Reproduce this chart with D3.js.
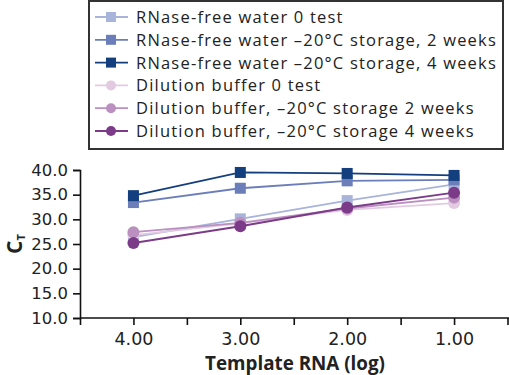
<!DOCTYPE html>
<html>
<head>
<meta charset="utf-8">
<title>CT vs template RNA</title>
<script src="https://d3js.org/d3.v7.min.js"></script>
<style>
  body { margin: 0; background: #fff; }
  svg { display: block; font-family: "Open Sans", sans-serif; }
</style>
</head>
<body>
<svg width="509" height="375"></svg>
<script>
// template RNA (log) positions
var templateLog = [4, 3, 2, 1];

// series labels, in legend order
var seriesNames = [
  "RNase-free water 0 test",
  "RNase-free water \u201320\u00b0C storage, 2 weeks",
  "RNase-free water \u201320\u00b0C storage, 4 weeks",
  "Dilution buffer 0 test",
  "Dilution buffer, \u201320\u00b0C storage 2 weeks",
  "Dilution buffer, \u201320\u00b0C storage 4 weeks"
];

// CT values (at log 4, 3, 2, 1)
var water0 = [26.4, 30.1, 33.8, 37.1];
var water2 = [33.4, 36.3, 37.8, 38.0];
var water4 = [34.8, 39.5, 39.3, 38.9];
var buffer0 = [26.8, 29.2, 31.9, 33.3];
var buffer2 = [27.4, 29.3, 32.2, 34.4];
var buffer4 = [25.2, 28.6, 32.4, 35.4];

var yTicks = [10, 15, 20, 25, 30, 35, 40];
var xTicks = [4.5, 4, 3.5, 3, 2.5, 2, 1.5, 1, 0.5];

var seriesValues = [water0, water2, water4, buffer0, buffer2, buffer4];
var colors = ["#a8b4da", "#6b7eba", "#143f7f", "#e2cbe1", "#bb8fc0", "#7b3b88"];
var shapes = ["square", "square", "square", "circle", "circle", "circle"];

var series = seriesNames.map(function(name, i) {
  return {
    name: name,
    color: colors[i],
    shape: shapes[i],
    points: templateLog.map(function(t, j) { return {x: t, y: seriesValues[i][j]}; })
  };
});

var svg = d3.select("svg");

// grow/shrink a text's font so it spans a given width
function fitWidth(sel, width) {
  var fs = +sel.attr("font-size");
  var w = sel.node().getComputedTextLength();
  sel.attr("font-size", fs * width / w);
}

var x = d3.scaleLinear().domain([4.5, 0.5]).range([80, 507.5]);
var y = d3.scaleLinear().domain([10, 40]).range([318, 170]);

// axes
var xAxis = svg.append("g")
  .attr("transform", "translate(0,318)")
  .call(d3.axisBottom(x)
    .tickValues(xTicks)
    .tickSizeOuter(0)
    .tickSize(7)
    .tickPadding(8)
    .tickFormat(function(d) { return d % 1 === 0 ? d3.format(".2f")(d) : ""; }));
xAxis.select(".domain").attr("stroke", "#111").attr("stroke-width", 1.6).attr("d", "M80,0H509");
xAxis.selectAll(".tick line").attr("stroke", "#111").attr("stroke-width", 1.6);
xAxis.selectAll(".tick text")
  .attr("font-family", "DejaVu Sans, sans-serif")
  .attr("font-size", 17.5)
  .attr("fill", "#222");

var yAxis = svg.append("g")
  .attr("transform", "translate(80,0)")
  .call(d3.axisLeft(y)
    .tickValues(yTicks)
    .tickSizeOuter(0)
    .tickSize(7)
    .tickPadding(5)
    .tickFormat(d3.format(".1f")));
yAxis.select(".domain").attr("stroke", "#111").attr("stroke-width", 1.6);
yAxis.selectAll(".tick line").attr("stroke", "#111").attr("stroke-width", 1.6);
yAxis.selectAll(".tick text")
  .attr("font-family", "DejaVu Sans, sans-serif")
  .attr("font-size", 16.5)
  .attr("fill", "#222");

// axis titles
var xTitle = svg.append("text")
  .attr("x", 295)
  .attr("y", 370)
  .attr("text-anchor", "middle")
  .attr("font-size", 19)
  .attr("font-weight", "bold")
  .attr("fill", "#222")
  .text("Template RNA (log)");
fitWidth(xTitle, 180);

var yTitle = svg.append("text")
  .attr("transform", "translate(22,244) rotate(-90)")
  .attr("text-anchor", "middle")
  .attr("font-size", 21)
  .attr("font-weight", "bold")
  .attr("fill", "#222");
yTitle.append("tspan").text("C");
yTitle.append("tspan").attr("font-size", 11).attr("dy", 3).text("T");

// lines and markers
var line = d3.line()
  .x(function(d) { return x(d.x); })
  .y(function(d) { return y(d.y); });

var sg = svg.append("g").selectAll("g")
  .data(series)
  .enter().append("g");

sg.append("path")
  .attr("d", function(d) { return line(d.points); })
  .attr("fill", "none")
  .attr("stroke", function(d) { return d.color; })
  .attr("stroke-width", 1.8);

sg.each(function(s) {
  var g = d3.select(this);
  if (s.shape === "square") {
    g.selectAll("rect").data(s.points).enter().append("rect")
      .attr("x", function(d) { return x(d.x) - 5.5; })
      .attr("y", function(d) { return y(d.y) - 5.5; })
      .attr("width", 11)
      .attr("height", 11)
      .attr("fill", s.color);
  } else {
    g.selectAll("circle").data(s.points).enter().append("circle")
      .attr("cx", function(d) { return x(d.x); })
      .attr("cy", function(d) { return y(d.y); })
      .attr("r", 6)
      .attr("fill", s.color);
  }
});

// legend
var legend = svg.append("g");
legend.append("rect")
  .attr("x", 89)
  .attr("y", 1)
  .attr("width", 414)
  .attr("height", 148)
  .attr("fill", "#fff")
  .attr("stroke", "#333")
  .attr("stroke-width", 2);

var item = legend.selectAll("g.item")
  .data(series)
  .enter().append("g")
  .attr("class", "item")
  .attr("transform", function(d, i) { return "translate(0," + (17 + i * 22.8) + ")"; });

item.append("line")
  .attr("x1", 95).attr("x2", 128)
  .attr("stroke", function(d) { return d.color; })
  .attr("stroke-width", 1.8);

item.each(function(s) {
  var g = d3.select(this);
  if (s.shape === "square") {
    g.append("rect").attr("x", 106).attr("y", -5).attr("width", 10).attr("height", 10).attr("fill", s.color);
  } else {
    g.append("circle").attr("cx", 111).attr("cy", 0).attr("r", 5).attr("fill", s.color);
  }
});

var labels = item.append("text")
  .attr("x", 136)
  .attr("dy", "0.36em")
  .attr("font-size", 16.5)
  .attr("fill", "#222")
  .text(function(d) { return d.name; });

// widen the letters a little so the longest entry reaches the box edge
var longest = labels.filter(function(d, i) { return i === 1; });
var lw = longest.node().getComputedTextLength();
var nChars = seriesNames[1].length;
labels.attr("letter-spacing", Math.max(0, (361 - lw) / nChars));
</script>
</body>
</html>
